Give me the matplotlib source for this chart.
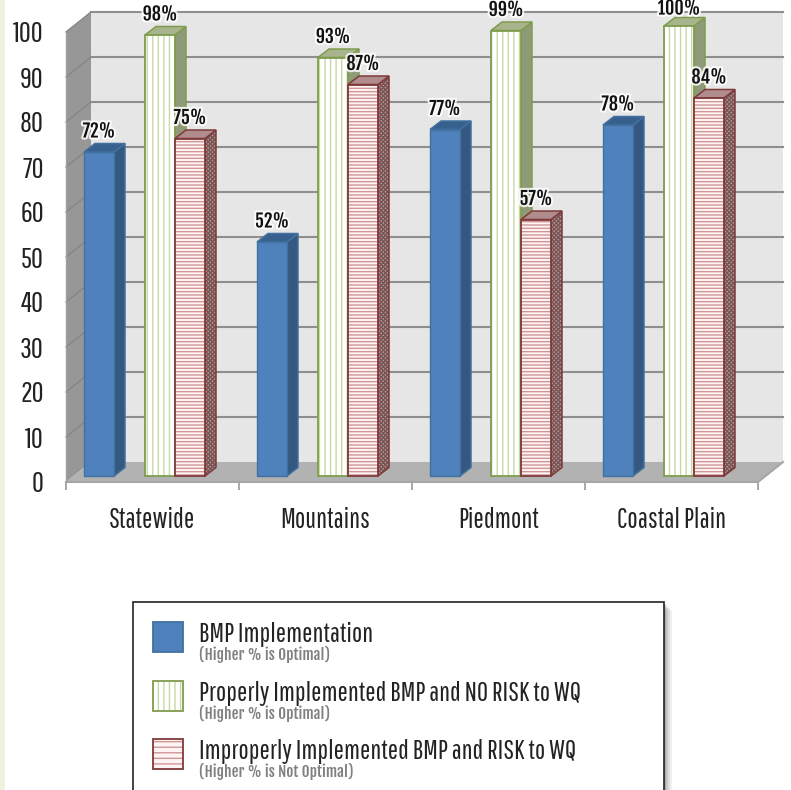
import matplotlib
matplotlib.use('Agg')
import matplotlib.pyplot as plt
import matplotlib.patheffects as pe
from matplotlib.patches import Polygon, Rectangle

categories = ['Statewide', 'Mountains', 'Piedmont', 'Coastal Plain']
bmp_implementation = [72, 52, 77, 78]
no_risk = [98, 93, 99, 100]
risk = [75, 87, 57, 84]
y_ticks = [0, 10, 20, 30, 40, 50, 60, 70, 80, 90, 100]

legend_labels = ['BMP Implementation',
                 'Properly Implemented BMP and NO RISK to WQ',
                 'Improperly Implemented BMP and RISK to WQ']
legend_notes = ['(Higher % is Optimal)', '(Higher % is Optimal)', '(Higher % is Not Optimal)']

W, H = 791, 790
REGULAR = ['Pathway Gothic One', 'Liberation Sans', 'DejaVu Sans']
HEAVY = ['Fjalla One', 'Liberation Sans', 'DejaVu Sans']
plt.rcParams['font.family'] = REGULAR
plt.rcParams['hatch.linewidth'] = 1.0

fig = plt.figure(figsize=(W / 100, H / 100), dpi=100, facecolor='white')
ax = fig.add_axes([66 / W, (H - 482) / H, 692 / W, 450 / H])
ax.set_xlim(0, 4)
ax.set_ylim(0, 100)
ax.patch.set_visible(False)
for s in ax.spines.values():
    s.set_visible(False)

# one pixel in data units
PX = 4 / 692
PY = 100 / 450
WALL_X, WALL_Y = 25 * PX, 20 * PY
BAR_X, BAR_Y = 11 * PX, 8.5 * PY
LIFT = 6 * PY
BAR_W = 30 * PX
OFFSETS = [18 * PX, 79 * PX, 109 * PX]
LABEL_CEILING = 105.2  # keeps the 100% label inside the figure


def poly(pts, **kw):
    ax.add_patch(Polygon(pts, closed=True, clip_on=False, **kw))


# walls and floor
poly([(0, 0), (WALL_X, WALL_Y), (WALL_X, 100 + WALL_Y), (0, 100)], fc='#979797', ec='none', zorder=1)
poly([(WALL_X, WALL_Y), (4 + WALL_X, WALL_Y), (4 + WALL_X, 100 + WALL_Y), (WALL_X, 100 + WALL_Y)],
     fc='#e6e6e6', ec='none', zorder=1)
poly([(0, 0), (4, 0), (4 + WALL_X, WALL_Y), (WALL_X, WALL_Y)], fc='#b2b2b2', ec='none', zorder=1)
for v in y_ticks[1:]:
    ax.plot([WALL_X, 4 + WALL_X], [v + WALL_Y] * 2, color='#8e8e8e', lw=1.5, clip_on=False, zorder=2)
    ax.plot([0, WALL_X], [v, v + WALL_Y], color='#868686', lw=1.0, clip_on=False, zorder=2)
ax.plot([0, 4, 4 + WALL_X], [0, 0, WALL_Y], color='#a6a6a6', lw=1.5, clip_on=False, zorder=2)
ax.plot([0, 0], [0, 100], color='#a0a0a0', lw=1.0, clip_on=False, zorder=2)

# axis ticks and labels
ax.set_yticks(y_ticks)
ax.set_xticks([0, 1, 2, 3, 4])
ax.set_xticklabels([])
ax.set_xticks([0.5, 1.5, 2.5, 3.5], minor=True)
ax.set_xticklabels(categories, minor=True, fontsize=19.8, color='#222222')
ax.tick_params(axis='x', which='major', length=6, width=1.2, color='#999999')
ax.tick_params(axis='x', which='minor', length=0, pad=18)
ax.tick_params(axis='y', length=0, pad=16, labelsize=21, labelcolor='#222222')


def bar_3d(x, v, front, side, top, edge, zo, hatch=None, hatch_color=None, side_hatch=None, side_hatch_color=None):
    y0, y1 = LIFT, LIFT + v
    x1 = x + BAR_W
    poly([(x1, y0), (x1 + BAR_X, y0 + BAR_Y), (x1 + BAR_X, y1 + BAR_Y), (x1, y1)],
         fc=side, ec=side_hatch_color if side_hatch else edge, hatch=side_hatch, lw=0, zorder=zo)
    poly([(x1, y0), (x1 + BAR_X, y0 + BAR_Y), (x1 + BAR_X, y1 + BAR_Y), (x1, y1)],
         fc='none', ec=edge, lw=1.1, zorder=zo)
    poly([(x, y1), (x + BAR_X, y1 + BAR_Y), (x1 + BAR_X, y1 + BAR_Y), (x1, y1)],
         fc=top, ec=edge, lw=1.1, zorder=zo)
    if hatch:
        ax.bar(x, v, BAR_W, bottom=y0, align='edge', color=front, edgecolor=hatch_color, hatch=hatch,
               lw=0, clip_on=False, zorder=zo)
        ax.bar(x, v, BAR_W, bottom=y0, align='edge', color='none', edgecolor=edge, lw=1.3,
               clip_on=False, zorder=zo)
    else:
        ax.bar(x, v, BAR_W, bottom=y0, align='edge', color=front, edgecolor=edge, lw=1.0,
               clip_on=False, zorder=zo)


halo = [pe.withStroke(linewidth=3, foreground='white', alpha=0.85)]
for i in range(len(categories)):
    x_blue, x_green, x_red = (i + o for o in OFFSETS)
    bar_3d(x_blue, bmp_implementation[i], '#4f81bd', '#34587f', '#38608f', '#41719f', 3)
    bar_3d(x_green, no_risk[i], 'white', '#8f9a78', '#a8b48c', '#7f9c4e', 4,
           hatch='|||', hatch_color='#c8d8a6')
    bar_3d(x_red, risk[i], '#fff4f4', '#b49a9a', '#b08c8c', '#7f3a3a', 5,
           hatch='-----', hatch_color='#d09696', side_hatch='xxxxxxxx', side_hatch_color='#7a5555')
    for x, v in [(x_blue, bmp_implementation[i]), (x_green, no_risk[i]), (x_red, risk[i])]:
        label_y = min(LIFT + v + 20.5 * PY, LABEL_CEILING)
        ax.text(x + BAR_W / 2, label_y, f'{v}%', ha='center', va='center', fontsize=13,
                family=HEAVY, color='#111111', path_effects=halo, zorder=8, clip_on=False)

# left page strip
fig.add_artist(Rectangle((0, 0), 5 / W, 1, transform=fig.transFigure, fc='#eff1de', ec='none'))

# legend panel, runs off the bottom edge
for k, a in zip([8, 6, 4, 2], [0.06, 0.08, 0.10, 0.14]):
    fig.add_artist(Rectangle((139 / W, -0.02), (525 + k) / W, (H - 602 - k + 16) / H,
                             transform=fig.transFigure, fc='black', alpha=a, ec='none'))
fig.add_artist(Rectangle((133 / W, -0.02), 531 / W, (H - 602) / H + 0.02,
                         transform=fig.transFigure, fc='white', ec='#222222', lw=1.2))

swatch_top = [622, 681, 739]
swatch_face = ['#4f81bd', 'white', '#fff4f4']
swatch_edge = ['#41719f', '#7f9c4e', '#7f3a3a']
swatch_hatch = [None, '|||', '---']
swatch_hatch_color = ['#4f81bd', '#c8d8a6', '#d09696']
for j in range(3):
    y = (H - swatch_top[j] - 30) / H
    fig.add_artist(Rectangle((153 / W, y), 30 / W, 30 / H, transform=fig.transFigure,
                             fc=swatch_face[j], ec=swatch_hatch_color[j], hatch=swatch_hatch[j], lw=0))
    fig.add_artist(Rectangle((153 / W, y), 30 / W, 30 / H, transform=fig.transFigure,
                             fc='none', ec=swatch_edge[j], lw=1.3))
    fig.text(199 / W, (H - swatch_top[j] - 12.5) / H, legend_labels[j], fontsize=19.6, color='#222222', va='center')
    fig.text(199 / W, (H - swatch_top[j] - 32) / H, legend_notes[j], fontsize=11, family=HEAVY,
             color='#808080', va='center')

fig.savefig('out.png', dpi=100)
